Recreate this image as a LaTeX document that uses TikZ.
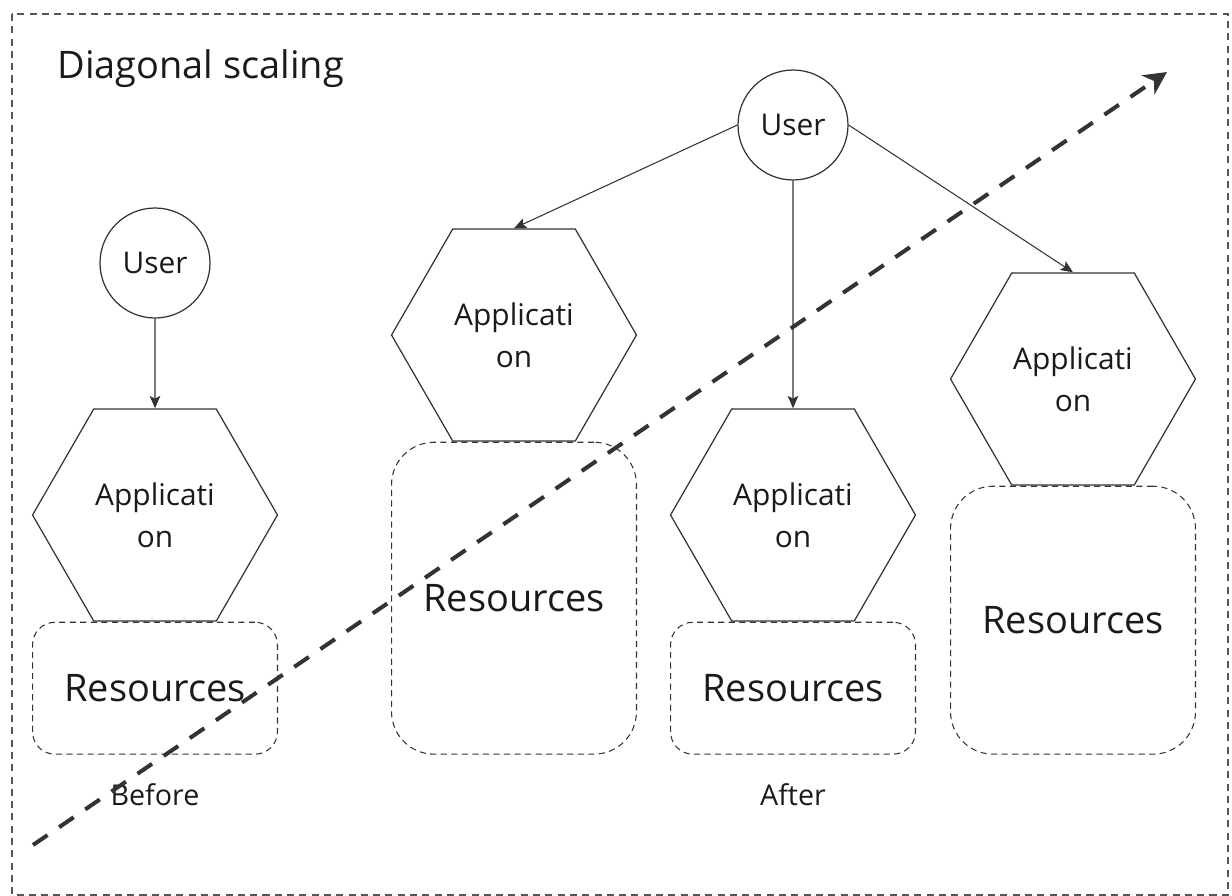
\documentclass[tikz,border=0pt]{standalone}
\usepackage{fontspec}
\setmainfont{Open Sans}
\usepackage{tikz}
\usetikzlibrary{arrows.meta,shapes.geometric,positioning}
\definecolor{ink}{HTML}{1A1A1A}
\definecolor{edge}{HTML}{333333}
\definecolor{frame}{HTML}{555555}
\tikzset{
  box/.style={draw=frame, line width=0.6pt, dash pattern=on 4pt off 3pt},
  user/.style={circle, draw=edge, line width=0.7pt, minimum size=2.2cm, inner sep=0pt, text=ink, font=\fontsize{17}{24}\selectfont},
  app/.style={regular polygon, regular polygon sides=6, draw=edge, line width=0.7pt, minimum size=4.9cm, inner sep=0pt, align=center, text=ink, font=\fontsize{17}{24}\selectfont},
  res/.style={rectangle, draw=edge, line width=0.6pt, dash pattern=on 3.5pt off 2.5pt, rounded corners=0.45cm, minimum width=4.9cm, anchor=north, text=ink, font=\fontsize{21.6}{26}\selectfont},
  link/.style={draw=edge, line width=0.6pt, -{Stealth[length=7pt, width=6pt, inset=1.5pt]}},
  diag/.style={draw=edge, line width=2.3pt, dash pattern=on 10pt off 8pt, -{Stealth[length=13pt, width=13pt, inset=4pt]}},
  lab/.style={text=ink, font=\fontsize{16.3}{20}\selectfont},
  ttl/.style={text=ink, inner sep=0pt, font=\fontsize{21.6}{26}\selectfont},
}
\begin{document}
\begin{tikzpicture}[x=0.02cm, y=-0.02cm]
  \useasboundingbox (0,0) rectangle (1232,896);
  \draw[box] (12,14) rectangle (1228,895);
  \node[ttl, anchor=base west] (title) at (57,78) {Diagonal scaling};

  \node[user] (u0) at (155,263) {User};
  \node[app] (a0) at (155,515) {Applicati\\on};
  \node[res, minimum height=2.64cm] (r0) at (a0.south) {Resources};
  \node[lab, anchor=base] (before) at (155,805) {Before};
  \draw[link] (u0.south) -- (a0.north);

  \node[user] (u1) at (793,125) {User};
  \node[app] (a1) at (514,335) {Applicati\\on};
  \node[app] (a2) at (793,515) {Applicati\\on};
  \node[app] (a3) at (1073,379) {Applicati\\on};
  \node[res, minimum height=6.24cm, rounded corners=0.85cm] (r1) at (a1.south) {Resources};
  \node[res, minimum height=2.64cm] (r2) at (a2.south) {Resources};
  \node[res, minimum height=5.36cm, rounded corners=0.85cm] (r3) at (a3.south) {Resources};
  \node[lab, anchor=base] (after) at (793,805) {After};
  \draw[link] (u1.west) -- (a1.north);
  \draw[link] (u1.south) -- (a2.north);
  \draw[link] (u1.east) -- (a3.north);

  \coordinate (d0) at (33,845);
  \coordinate (d1) at (1167,72);
  \draw[diag] (d0) -- (d1);
\end{tikzpicture}
\end{document}
